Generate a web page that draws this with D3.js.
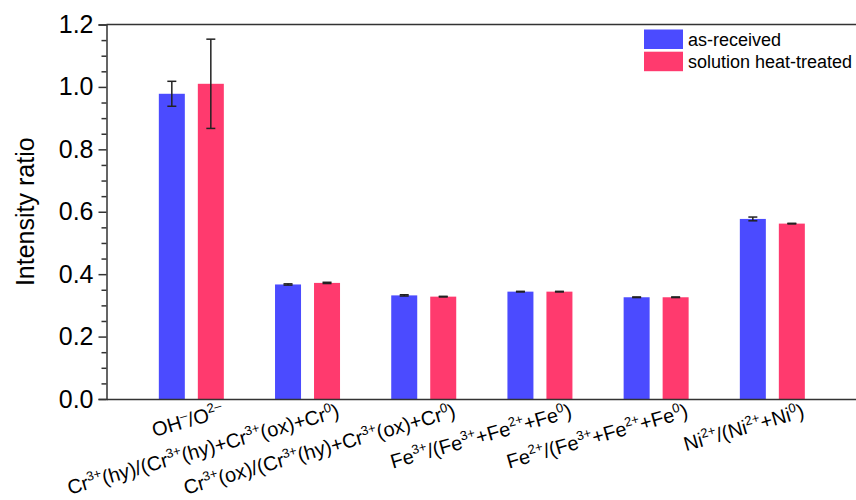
<!DOCTYPE html>
<html>
<head>
<meta charset="utf-8">
<script src="https://cdn.jsdelivr.net/npm/d3@7"></script>
<style>
  body { margin: 0; background: #fff; }
  svg { font-family: "Liberation Sans", Arial, sans-serif; }
</style>
</head>
<body>
<div id="chart"></div>
<script>
// categories (x tick labels), ^{..} marks a superscript
let categories = [
  "OH^{–}/O^{2–}",
  "Cr^{3+}(hy)/(Cr^{3+}(hy)+Cr^{3+}(ox)+Cr^{0})",
  "Cr^{3+}(ox)/(Cr^{3+}(hy)+Cr^{3+}(ox)+Cr^{0})",
  "Fe^{3+}/(Fe^{3+}+Fe^{2+}+Fe^{0})",
  "Fe^{2+}/(Fe^{3+}+Fe^{2+}+Fe^{0})",
  "Ni^{2+}/(Ni^{2+}+Ni^{0})"
]
let seriesNames = ["as-received", "solution heat-treated"]
let asReceived = [0.978, 0.367, 0.332, 0.344, 0.326, 0.577]
let asReceivedErr = [0.040, 0.002, 0.002, 0.001, 0.001, 0.006]
let heatTreated = [1.010, 0.372, 0.328, 0.344, 0.326, 0.562]
let heatTreatedErr = [0.143, 0.002, 0.001, 0.001, 0.001, 0.001]
let yTicks = [0, 0.2, 0.4, 0.6, 0.8, 1.0, 1.2]

let colors = ["#4b4bff", "#ff3a6e"]

let width = 856, height = 500
let margin = { top: 24.5, left: 106.5, bottom: 101, right: 0 }

let svg = d3.select("#chart").append("svg")
  .attr("width", width)
  .attr("height", height)

let x = d3.scaleLinear().domain([0.27, 6.72]).range([margin.left, width - margin.right])
let y = d3.scaleLinear().domain([0, 1.2]).range([height - margin.bottom, margin.top])
let x1 = d3.scaleBand().domain([0, 1]).range([-32.5, 32.5]).paddingInner(1 / 3)

let series = [
  { name: seriesNames[0], values: asReceived, err: asReceivedErr },
  { name: seriesNames[1], values: heatTreated, err: heatTreatedErr }
]

// bars
series.forEach(function (s, si) {
  let g = svg.append("g")
  g.selectAll("rect")
    .data(s.values)
    .enter().append("rect")
    .attr("x", function (d, i) { return x(i + 1) + x1(si) })
    .attr("width", x1.bandwidth())
    .attr("y", function (d) { return y(d) })
    .attr("height", function (d) { return y(0) - y(d) })
    .attr("fill", colors[si])

  // error bars
  let eb = g.selectAll("g.err")
    .data(s.values)
    .enter().append("g")
    .attr("class", "err")
    .attr("stroke", "#222")
    .attr("stroke-width", 1.5)
  eb.append("line")
    .attr("x1", function (d, i) { return x(i + 1) + x1(si) + x1.bandwidth() / 2 })
    .attr("x2", function (d, i) { return x(i + 1) + x1(si) + x1.bandwidth() / 2 })
    .attr("y1", function (d, i) { return y(d - s.err[i]) })
    .attr("y2", function (d, i) { return y(d + s.err[i]) })
  ;[-1, 1].forEach(function (sign) {
    eb.append("line")
      .attr("x1", function (d, i) { return x(i + 1) + x1(si) + x1.bandwidth() / 2 - 4.5 })
      .attr("x2", function (d, i) { return x(i + 1) + x1(si) + x1.bandwidth() / 2 + 4.5 })
      .attr("y1", function (d, i) { return y(d + sign * s.err[i]) })
      .attr("y2", function (d, i) { return y(d + sign * s.err[i]) })
  })
})

// y axis with minor ticks
let minor = d3.range(0, 1.2001, 0.05).filter(function (v) { return Math.abs(v / 0.2 - Math.round(v / 0.2)) > 0.01 })
svg.append("g")
  .attr("transform", "translate(" + margin.left + ",0)")
  .call(d3.axisLeft(y).tickValues(minor).tickSize(5).tickFormat(""))
  .call(function (g) { g.select(".domain").remove() })
  .selectAll("line").attr("stroke", "#333").attr("stroke-width", 1.5)

let yAxis = svg.append("g")
  .attr("transform", "translate(" + margin.left + ",0)")
  .call(d3.axisLeft(y).tickValues(yTicks).tickSize(8).tickPadding(5).tickFormat(d3.format(".1f")))
yAxis.selectAll("line").attr("stroke", "#333").attr("stroke-width", 1.5)
yAxis.select(".domain").attr("stroke", "#333").attr("stroke-width", 1.5)
yAxis.selectAll("text")
  .attr("fill", "#000")
  .style("font-size", "25px")
  .style("font-family", "'Liberation Sans', Arial, sans-serif")

// top frame line
svg.append("line")
  .attr("x1", margin.left).attr("x2", width)
  .attr("y1", y(1.2)).attr("y2", y(1.2))
  .attr("stroke", "#333").attr("stroke-width", 1.5)

// x axis
let xAxis = svg.append("g")
  .attr("transform", "translate(0," + y(0) + ")")
  .call(d3.axisBottom(x).tickValues(d3.range(1, categories.length + 1)).tickSize(0).tickFormat(""))
xAxis.select(".domain").attr("stroke", "#333").attr("stroke-width", 1.5)

// rotated category labels with superscripts
let labels = svg.append("g")
  .style("font-size", "20px")
categories.forEach(function (c, i) {
  let t = labels.append("text")
    .attr("text-anchor", "end")
    .attr("transform", "translate(" + (x(i + 1) + 33) + "," + (y(0) + 18) + ") rotate(-16)")
  let parts = c.split(/(\^\{[^}]*\})/).filter(function (p) { return p.length })
  let raised = false
  parts.forEach(function (p) {
    if (p.startsWith("^{")) {
      t.append("tspan").attr("dy", -8).style("font-size", "13px").text(p.slice(2, -1))
      raised = true
    } else {
      t.append("tspan").attr("dy", raised ? 8 : 0).text(p)
      raised = false
    }
  })
})

// y axis title
svg.append("text")
  .attr("transform", "translate(34," + (y(0.6)) + ") rotate(-90)")
  .attr("text-anchor", "middle")
  .style("font-size", "25px")
  .text("Intensity ratio")

// legend
let legend = svg.append("g")
seriesNames.forEach(function (name, i) {
  legend.append("rect")
    .attr("x", 644).attr("y", 29.5 + i * 22.2)
    .attr("width", 39).attr("height", 19.5)
    .attr("fill", colors[i])
  legend.append("text")
    .attr("x", 688).attr("y", 45.5 + i * 22.2)
    .style("font-size", "18px")
    .text(name)
})
</script>
</body>
</html>
